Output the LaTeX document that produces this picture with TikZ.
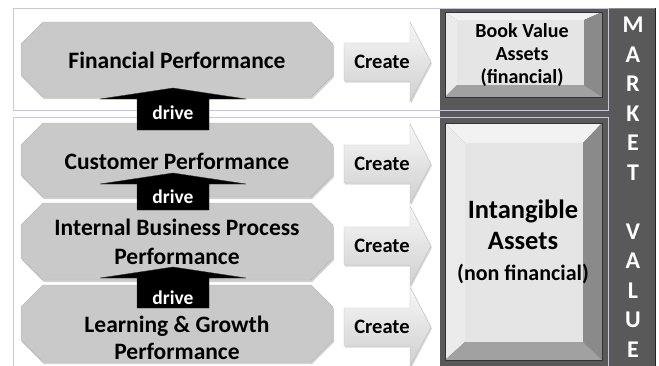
\documentclass[tikz,border=0pt]{standalone}
\usepackage{fontspec}
\setmainfont{Carlito}
\usetikzlibrary{shadows}
\definecolor{framelav}{RGB}{204,194,236}

\begin{document}
\begin{tikzpicture}[x=1pt, y=-1pt,
  perf/.style={fill=black!21, draw=black!28, drop shadow={opacity=0.35, shadow xshift=1pt, shadow yshift=-2pt}},
  createarrow/.style={top color=black!3, bottom color=black!19, draw=black!25, drop shadow={opacity=0.3, shadow xshift=1pt, shadow yshift=-1.5pt}},
  drivearrow/.style={fill=black, draw=black!80},
  framebox/.style={draw=framelav, line width=0.8pt},
  perflbl/.style={font=\bfseries\fontsize{23.5}{28.5}\selectfont, align=center},
  createlbl/.style={font=\bfseries\fontsize{20.5}{24}\selectfont},
  drivelbl/.style={font=\bfseries\fontsize{19.5}{22}\selectfont, text=white},
  assetlbl/.style={font=\bfseries\fontsize{20}{23}\selectfont, align=center}]
\clip (0,0) rectangle (659,365);
\fill[white] (0,0) rectangle (659,365);

% dark backdrop and market value column
\fill[black!65] (440,8) rectangle (656,370);
\draw[black!45, line width=1.5pt] (441,8.5) -- (655,8.5);
\draw[black!85, line width=1pt] (655,8) -- (655,370);

% frames
\draw[framebox] (13,8) rectangle (608,110);
\draw[framebox] (13,117) rectangle (608,372);

% book value box
\fill[black!5] (445,12) -- (602,12) -- (584,20) -- (457,20) -- cycle;
\fill[black!8] (445,12) -- (457,20) -- (457,85) -- (445,97) -- cycle;
\fill[black!46] (602,12) -- (602,97) -- (584,85) -- (584,20) -- cycle;
\fill[black!37] (445,97) -- (457,85) -- (584,85) -- (602,97) -- cycle;
\fill[black!10] (457,20) rectangle (584,85);
\draw[black!80] (445,12) rectangle (602,97);
\node[assetlbl] (bookval) at (522,55) {Book Value\\Assets\\(financial)};

% intangible box
\fill[black!5] (445,123) -- (602,123) -- (583,143) -- (465,143) -- cycle;
\fill[black!8] (445,123) -- (465,143) -- (465,342) -- (445,360) -- cycle;
\fill[black!46] (602,123) -- (602,360) -- (583,342) -- (583,143) -- cycle;
\fill[black!37] (445,360) -- (465,342) -- (583,342) -- (602,360) -- cycle;
\fill[black!10] (465,143) rectangle (583,342);
\draw[black!80] (445,123) rectangle (602,360);
\node[assetlbl, font=\bfseries\fontsize{26.5}{31}\selectfont] (intangible) at (523,242) {Intangible\\Assets\\{\fontsize{22}{26}\selectfont(non financial)}};

% performance boxes
\draw[perf] (43,22) -- (311,22) -- (333,44) -- (333,75) -- (311,97) -- (43,97) -- (21,75) -- (21,44) -- cycle;
\draw[perf] (43,123) -- (311,123) -- (333,145) -- (333,175) -- (311,197) -- (43,197) -- (21,175) -- (21,145) -- cycle;
\draw[perf] (43,203) -- (311,203) -- (333,225) -- (333,258) -- (311,280) -- (43,280) -- (21,258) -- (21,225) -- cycle;
\draw[perf] (43,285) -- (311,285) -- (333,307) -- (333,340) -- (311,362) -- (43,362) -- (21,340) -- (21,307) -- cycle;
\node[perflbl] (finperf) at (177,60) {Financial Performance};
\node[perflbl] (custperf) at (177,161) {Customer Performance};
\node[perflbl] (procperf) at (177,242) {Internal Business Process\\Performance};
\node[perflbl, font=\bfseries\fontsize{23.5}{27}\selectfont] (learnperf) at (177,338) {Learning \& Growth\\Performance};

% create arrows
\draw[createarrow] (344,43) -- (410,43) -- (410,22) -- (431,62) -- (410,102) -- (410,81) -- (344,81) -- cycle;
\draw[createarrow] (344,145) -- (410,145) -- (410,124) -- (431,164) -- (410,204) -- (410,183) -- (344,183) -- cycle;
\draw[createarrow] (344,227) -- (410,227) -- (410,206) -- (431,246) -- (410,286) -- (410,265) -- (344,265) -- cycle;
\draw[createarrow] (344,308) -- (410,308) -- (410,287) -- (431,327) -- (410,367) -- (410,346) -- (344,346) -- cycle;
\node[createlbl] (create1) at (382,62) {Create};
\node[createlbl] (create2) at (382,164) {Create};
\node[createlbl] (create3) at (382,246) {Create};
\node[createlbl] (create4) at (382,327) {Create};

% drive arrows
\draw[drivearrow] (137,130) -- (137,99) -- (100,99) -- (173,88) -- (246,99) -- (209,99) -- (209,130) -- cycle;
\draw[drivearrow] (137,210) -- (137,184) -- (100,184) -- (173,173) -- (246,184) -- (209,184) -- (209,210) -- cycle;
\draw[drivearrow] (137,308) -- (137,278) -- (100,278) -- (173,267) -- (246,278) -- (209,278) -- (209,308) -- cycle;
\node[drivelbl] (drive1) at (173,113) {drive};
\node[drivelbl] (drive2) at (173,197) {drive};
\node[drivelbl] (drive3) at (173,298) {drive};

% market value
\node[font=\bfseries\fontsize{24}{29.5}\selectfont, text=white, align=center] (market) at (633,187) {M\\A\\R\\K\\E\\T\\\mbox{}\\V\\A\\L\\U\\E};
\end{tikzpicture}
\end{document}
